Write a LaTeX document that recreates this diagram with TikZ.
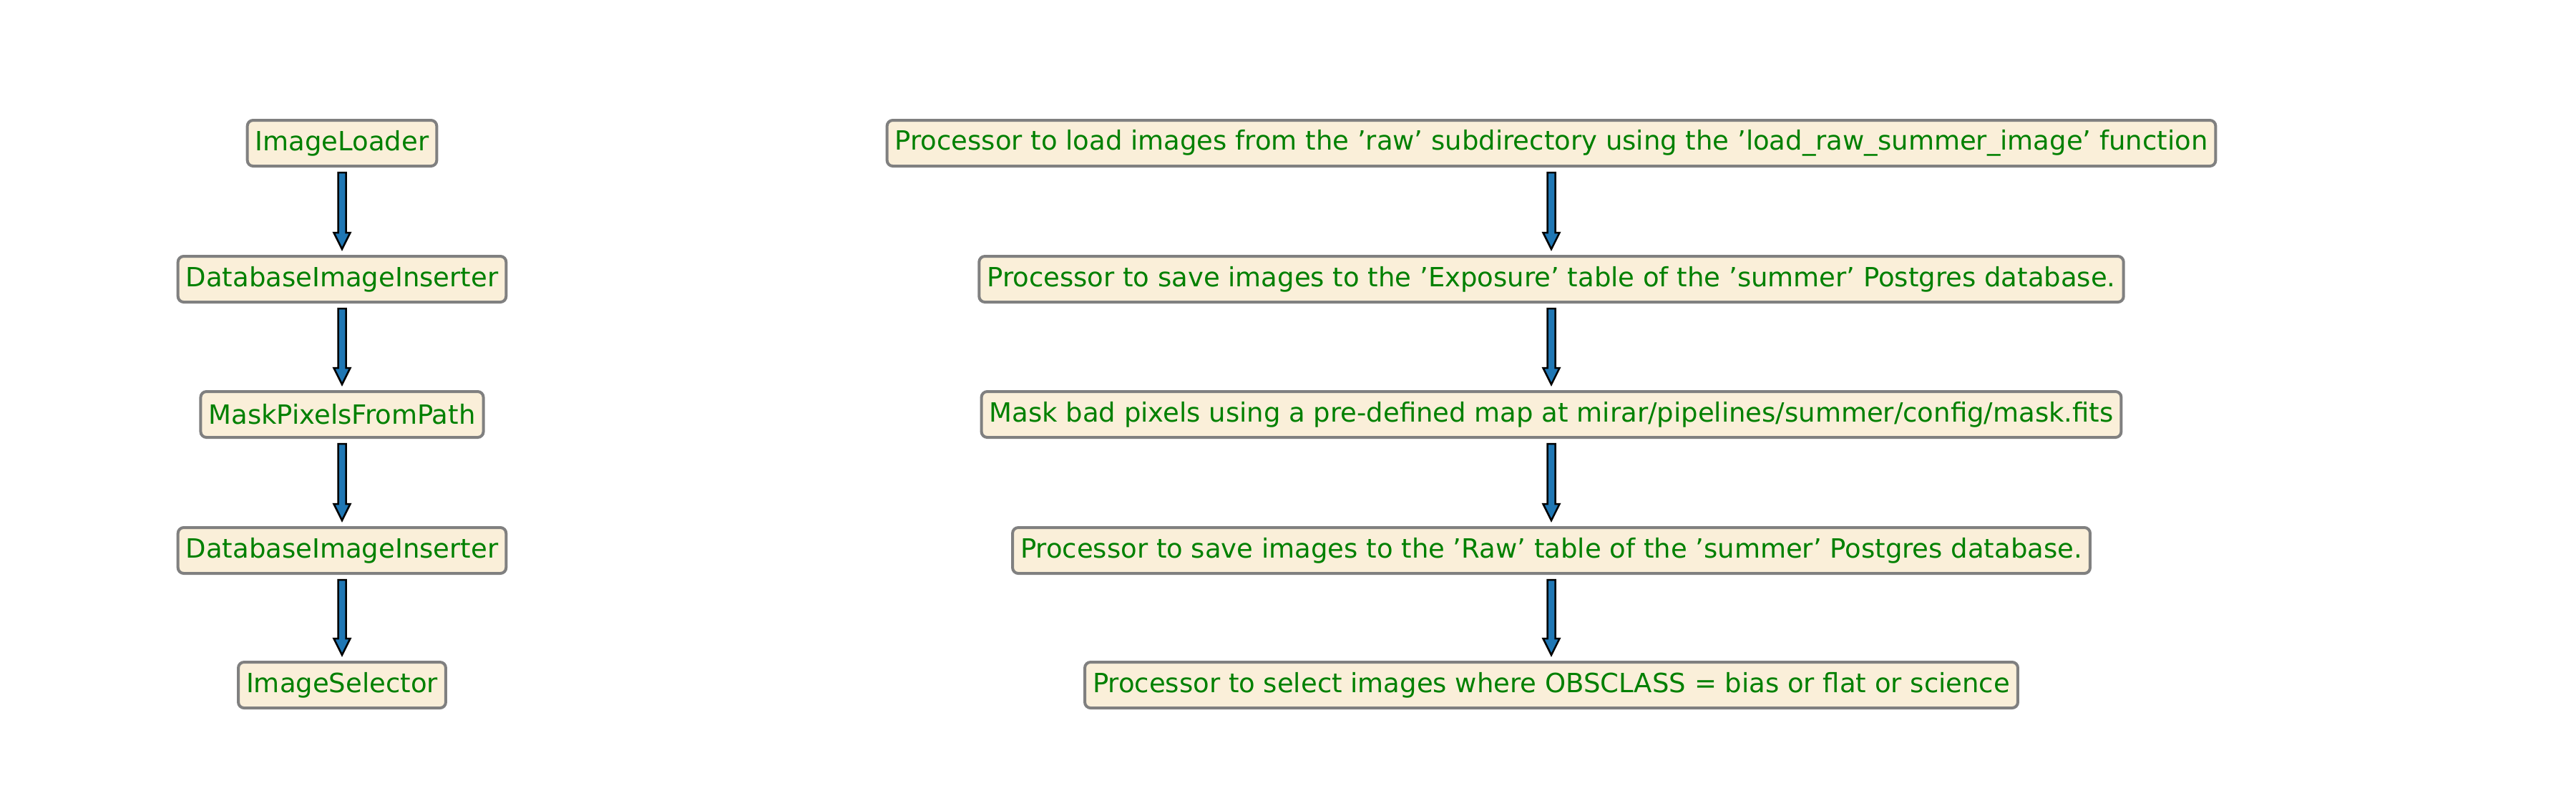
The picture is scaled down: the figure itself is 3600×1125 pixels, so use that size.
\documentclass[tikz,border=0pt]{standalone}
\usepackage{fontspec}
\setmainfont{DejaVu Sans}
\usetikzlibrary{calc}
\definecolor{boxfill}{RGB}{250,239,217}
\definecolor{txt}{RGB}{0,128,0}
\definecolor{arrblue}{RGB}{31,119,180}
\begin{document}
\begin{tikzpicture}[x=0.2pt,y=-0.2pt,
  box/.style={draw=gray, fill=boxfill, line width=0.8pt, rounded corners=1.6pt,
    text=txt, font=\fontsize{7.4pt}{9pt}\selectfont, minimum height=12.8pt, inner xsep=2.2pt, inner ysep=0pt},
  arr/.style={draw=black, fill=arrblue, line width=0.5pt, line join=miter}]
\useasboundingbox (0,0) rectangle (3600,1125);
\def\arrow#1#2{\draw[arr] let \p1=(#1.south), \p2=(#2.north) in
  (\x1-1.1pt,\y1-1.4pt) -- (\x1+1.1pt,\y1-1.4pt) -- (\x1+1.1pt,\y2+6.2pt) -- (\x1+2.3pt,\y2+6.2pt)
  -- (\x1,\y2+1.6pt) -- (\x1-2.3pt,\y2+6.2pt) -- (\x1-1.1pt,\y2+6.2pt) -- cycle;}
\node[box] (l1) at (478,200) {ImageLoader};
\node[box] (l2) at (478,390) {DatabaseImageInserter};
\node[box] (l3) at (478,579) {MaskPixelsFromPath};
\node[box] (l4) at (478,769) {DatabaseImageInserter};
\node[box] (l5) at (478,957) {ImageSelector};
\node[box] (r1) at (2168,200) {Processor to load images from the 'raw' subdirectory using the 'load\_raw\_summer\_image' function};
\node[box] (r2) at (2168,390) {Processor to save images to the 'Exposure' table of the 'summer' Postgres database.};
\node[box] (r3) at (2168,579) {Mask bad pixels using a pre-defined map at mirar/pipelines/summer/config/mask.fits};
\node[box] (r4) at (2168,769) {Processor to save images to the 'Raw' table of the 'summer' Postgres database.};
\node[box] (r5) at (2168,957) {Processor to select images where OBSCLASS = bias or flat or science};
\arrow{l1}{l2}\arrow{l2}{l3}\arrow{l3}{l4}\arrow{l4}{l5}
\arrow{r1}{r2}\arrow{r2}{r3}\arrow{r3}{r4}\arrow{r4}{r5}
\end{tikzpicture}
\end{document}
